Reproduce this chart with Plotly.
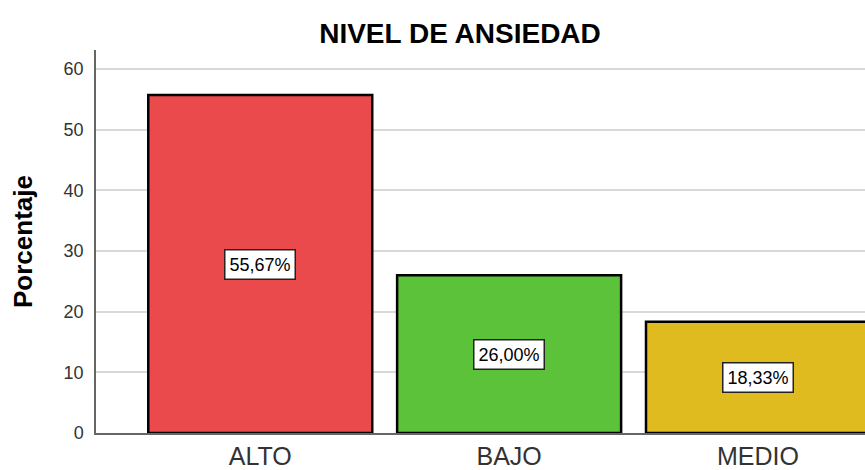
import plotly.graph_objects as go

categories = ["ALTO", "BAJO", "MEDIO"]
values = [55.67, 26.00, 18.33]
labels = ["55,67%", "26,00%", "18,33%"]
colors = ["#EB4A4C", "#5CC23A", "#DFBB20"]
y_ticks = [0, 10, 20, 30, 40, 50, 60]

FONT = "Liberation Sans, Arial"

fig = go.Figure()
fig.add_trace(go.Bar(
    x=categories, y=values, width=0.9,
    marker=dict(color=colors, line=dict(color="#000000", width=2.5)),
    hoverinfo="skip",
))

for c, v, t in zip(categories, values, labels):
    fig.add_annotation(
        x=c, y=v / 2, text=t, showarrow=False,
        font=dict(family=FONT, size=18, color="#000000"),
        bgcolor="#ffffff", bordercolor="#222222", borderwidth=1.5, borderpad=4,
    )

fig.update_layout(
    width=865, height=470,
    margin=dict(l=96, r=0, t=50, b=37, autoexpand=False),
    paper_bgcolor="#ffffff", plot_bgcolor="#ffffff",
    showlegend=False,
    font=dict(family=FONT, color="#333333"),
    title=dict(text="<b>NIVEL DE ANSIEDAD</b>", x=460 / 865, xanchor="center",
               y=1 - 33 / 470, yanchor="middle",
               font=dict(size=28, color="#000000")),
)
fig.update_xaxes(
    range=[-0.66, 2.43], showgrid=False, showline=True, linecolor="#666666",
    linewidth=1.5, ticks="", tickfont=dict(size=25, color="#333333"),
)
fig.update_yaxes(
    range=[0, 63.1], tickvals=y_ticks, showgrid=True, gridcolor="#d9d9d9",
    gridwidth=2, showline=True, linecolor="#666666", linewidth=1.5,
    zeroline=False, ticks="outside", ticklen=7, tickcolor="rgba(0,0,0,0)",
    tickfont=dict(size=18, color="#333333"),
    title=dict(text="<b>Porcentaje</b>", font=dict(size=26, color="#000000"), standoff=24),
)

fig.write_html("out.html", config={"displayModeBar": False},
               post_script="document.body.style.margin='0px';")
